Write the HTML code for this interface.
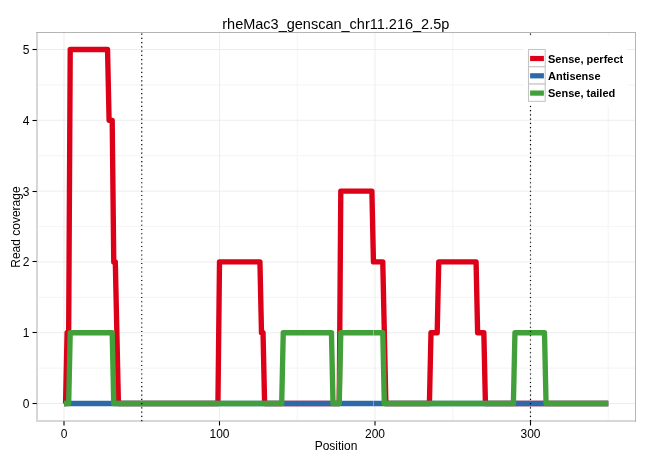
<!DOCTYPE html>
<html><head><meta charset="utf-8">
<style>
html,body{margin:0;padding:0;background:#fff;width:650px;height:460px;overflow:hidden}
svg{display:block}
text{font-family:"Liberation Sans",sans-serif;fill:#000}
.t{will-change:transform}
</style></head><body>
<svg class="t" width="650" height="460" viewBox="0 0 650 460">
<rect x="0" y="0" width="650" height="460" fill="#fff"/>
<!-- minor grid -->
<g stroke="#F6F6F6" stroke-width="1.2" fill="none">
<line x1="36.8" y1="368.1" x2="635.5" y2="368.1"/>
<line x1="36.8" y1="297.3" x2="635.5" y2="297.3"/>
<line x1="36.8" y1="226.5" x2="635.5" y2="226.5"/>
<line x1="36.8" y1="155.7" x2="635.5" y2="155.7"/>
<line x1="36.8" y1="84.9" x2="635.5" y2="84.9"/>
<line x1="141.75" y1="31.8" x2="141.75" y2="421.2"/>
<line x1="297.25" y1="31.8" x2="297.25" y2="421.2"/>
<line x1="452.75" y1="31.8" x2="452.75" y2="421.2"/>
<line x1="608.25" y1="31.8" x2="608.25" y2="421.2"/>
</g>
<!-- major grid -->
<g stroke="#E5E5E5" stroke-width="0.7" fill="none">
<line x1="36.8" y1="403.5" x2="635.5" y2="403.5"/>
<line x1="36.8" y1="332.7" x2="635.5" y2="332.7"/>
<line x1="36.8" y1="261.9" x2="635.5" y2="261.9"/>
<line x1="36.8" y1="191.1" x2="635.5" y2="191.1"/>
<line x1="36.8" y1="120.3" x2="635.5" y2="120.3"/>
<line x1="36.8" y1="49.5" x2="635.5" y2="49.5"/>
<line x1="64" y1="31.8" x2="64" y2="421.2"/>
<line x1="219.5" y1="31.8" x2="219.5" y2="421.2"/>
<line x1="375" y1="31.8" x2="375" y2="421.2"/>
<line x1="530.5" y1="31.8" x2="530.5" y2="421.2"/>
</g>
<!-- data lines -->
<g fill="none" stroke-width="5.35" stroke-linejoin="round" stroke-linecap="butt">
<path stroke="#DC0019" d="M64.00,403.50 L65.56,403.50 L67.11,332.70 L68.67,332.70 L70.22,49.50 L107.54,49.50 L109.09,120.30 L112.20,120.30 L113.76,261.90 L115.31,261.90 L118.42,403.50 L217.94,403.50 L219.50,261.90 L259.93,261.90 L261.49,332.70 L263.04,332.70 L264.60,403.50 L339.24,403.50 L340.79,191.10 L371.89,191.10 L373.44,261.90 L382.77,261.90 L385.88,403.50 L429.43,403.50 L430.98,332.70 L437.20,332.70 L438.75,261.90 L476.07,261.90 L477.63,332.70 L483.85,332.70 L485.40,403.50 L608.25,403.50"/>
<path stroke="#2C69A6" d="M64.00,403.50 L608.25,403.50"/>
<path stroke="#42A03A" d="M64.00,403.50 L68.67,403.50 L70.22,332.70 L112.20,332.70 L113.76,403.50 L281.70,403.50 L283.25,332.70 L331.46,332.70 L333.01,403.50 L339.24,403.50 L340.79,332.70 L382.77,332.70 L384.33,403.50 L513.39,403.50 L514.95,332.70 L544.50,332.70 L546.05,403.50 L608.25,403.50"/>
</g>
<g fill="#fff" opacity="0.55"><rect x="373.0" y="330.0" width="0.7" height="5.4"/><rect x="373.0" y="400.8" width="0.7" height="5.4"/></g>
<!-- panel border -->
<g fill="#D7D7D7"><rect x="36" y="32" width="2" height="390"/><rect x="36" y="420" width="600" height="2"/></g><g fill="#B4B4B4"><rect x="36" y="32" width="600" height="1"/><rect x="635" y="32" width="1" height="390"/></g>
<!-- vlines dotted -->
<g stroke="#000" stroke-width="1.2" stroke-dasharray="1.1 3.147" fill="none">
<line x1="141.75" y1="421.2" x2="141.75" y2="31.8"/>
<line x1="530.5" y1="421.2" x2="530.5" y2="31.8"/>
</g>
<!-- legend -->
<rect x="523.8" y="35.9" width="103.5" height="69.7" fill="#fff"/>
<g stroke="#C4C4C4" stroke-width="1.07" fill="#fff">
<rect x="528.5" y="49.5" width="16.7" height="17.28"/>
<rect x="528.5" y="66.78" width="16.7" height="17.28"/>
<rect x="528.5" y="84.06" width="16.7" height="17.28"/>
</g>
<g stroke-width="5.2" stroke-linecap="butt">
<line x1="530.1" y1="58.5" x2="543.9" y2="58.5" stroke="#DC0019"/>
<line x1="530.1" y1="75.8" x2="543.9" y2="75.8" stroke="#2C69A6"/>
<line x1="530.1" y1="93.1" x2="543.9" y2="93.1" stroke="#42A03A"/>
</g>
<g font-size="11" font-weight="bold">
<text x="548" y="63">Sense, perfect</text>
<text x="548" y="80.3">Antisense</text>
<text x="548" y="97.4">Sense, tailed</text>
</g>
<!-- ticks -->
<g stroke="#000" stroke-width="1.1">
<line x1="32.5" y1="403.5" x2="36.8" y2="403.5"/>
<line x1="32.5" y1="332.5" x2="36.8" y2="332.5"/>
<line x1="32.5" y1="261.5" x2="36.8" y2="261.5"/>
<line x1="32.5" y1="191.5" x2="36.8" y2="191.5"/>
<line x1="32.5" y1="120.5" x2="36.8" y2="120.5"/>
<line x1="32.5" y1="49.5" x2="36.8" y2="49.5"/>
<line x1="64" y1="421.2" x2="64" y2="425.5"/>
<line x1="219.5" y1="421.2" x2="219.5" y2="425.5"/>
<line x1="375" y1="421.2" x2="375" y2="425.5"/>
<line x1="530.5" y1="421.2" x2="530.5" y2="425.5"/>
</g>
<g font-size="12" text-anchor="end">
<text x="29.5" y="407.9">0</text>
<text x="29.5" y="337.1">1</text>
<text x="29.5" y="266.3">2</text>
<text x="29.5" y="195.5">3</text>
<text x="29.5" y="124.7">4</text>
<text x="29.5" y="53.9">5</text>
</g>
<g font-size="12" text-anchor="middle">
<text x="64" y="437.8">0</text>
<text x="219.5" y="437.8">100</text>
<text x="375" y="437.8">200</text>
<text x="530.5" y="437.8">300</text>
<text x="336" y="449.9">Position</text>
</g>
<text font-size="12" text-anchor="middle" transform="translate(20.0,227.1) rotate(-90)">Read coverage</text>
<text font-size="14.5" text-anchor="middle" x="335.8" y="28.5">rheMac3_genscan_chr11.216_2.5p</text>
</svg>
</body></html>
